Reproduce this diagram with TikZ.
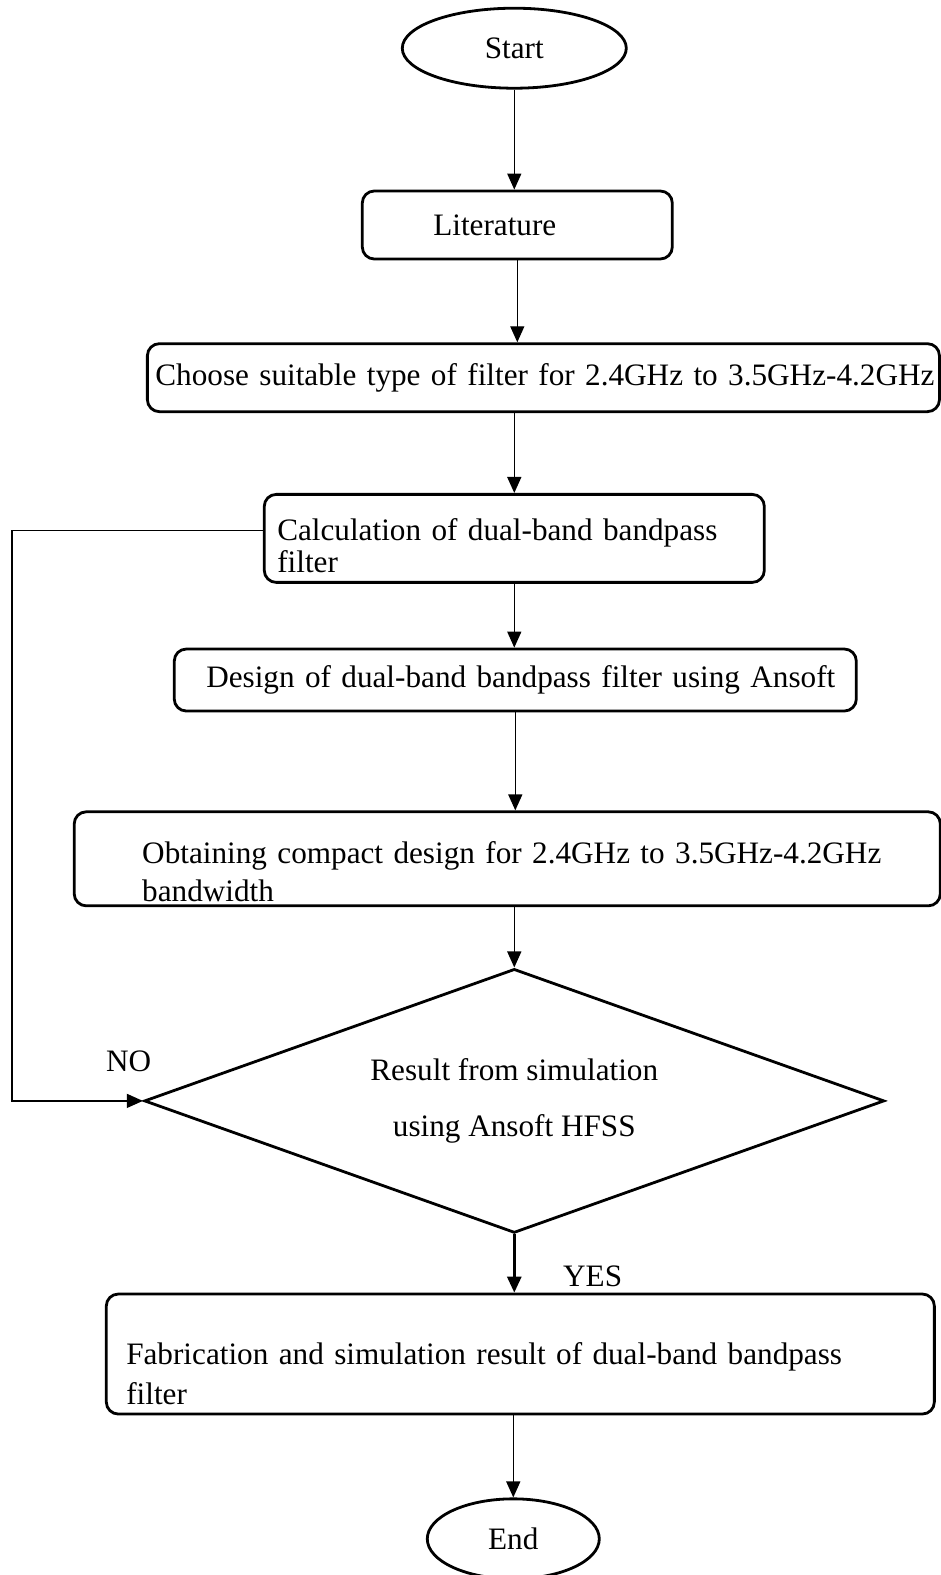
\documentclass[tikz,border=0pt]{standalone}
\usepackage{fontspec}
\setmainfont{Liberation Serif}
\usetikzlibrary{shapes.geometric,arrows.meta}

\begin{document}
\begin{tikzpicture}[x=0.5022pt, y=-0.5022pt,
    every node/.style={font=\fontsize{15.6}{19}\selectfont},
    terminal/.style={ellipse, draw, line width=1.4pt, inner sep=0pt},
    process/.style={rectangle, rounded corners=6pt, draw, line width=1.4pt,
                    inner xsep=0pt, inner ysep=0pt, align=left},
    decision/.style={diamond, draw, line width=1.4pt, inner sep=0pt,
                     aspect=2.8, align=center},
    flow/.style={-{Triangle[length=8pt,width=7pt]}, line width=0.7pt}]
   \useasboundingbox (0,0) rectangle (936,1568);

   \node[terminal, minimum width=112pt, minimum height=40pt] (start) at (512,48) {Start};
   \node[process, text width=155pt, minimum height=34pt] (lit) at (515,224)
        {\hspace*{35.5pt}Literature};
   \node[process, text width=396pt, minimum height=34pt] (choose) at (541,376)
        {\hspace*{4pt}\mbox{Choose suitable type of filter for 2.4GHz to 3.5GHz-4.2GHz}};
   \node[process, text width=250pt, minimum height=44pt] (calc) at (512,536)
        {\rule{0pt}{18pt}\hspace*{6.5pt}Calculation of dual-band bandpass\\[-3pt]\hspace*{6.5pt}filter};
   \node[process, text width=341pt, minimum height=31pt] (design) at (513,677)
        {\hspace*{16pt}Design of dual-band bandpass filter using Ansoft};
   \node[process, text width=433pt, minimum height=47pt] (obtain) at (505,855)
        {\rule{0pt}{24pt}\hspace*{34pt}Obtaining compact design for 2.4GHz to 3.5GHz-4.2GHz\\\hspace*{34pt}bandwidth};
   \node[decision, minimum width=370pt, minimum height=132pt] (dec) at (512,1096)
        {Result from simulation\\[9pt]using Ansoft HFSS};
   \node[process, text width=414pt, minimum height=60pt] (fab) at (518,1348)
        {\rule{0pt}{31pt}\hspace*{10pt}Fabrication and simulation result of dual-band bandpass\\[1pt]\hspace*{10pt}filter};
   \node[terminal, minimum width=86pt, minimum height=40pt] (end) at (511,1532) {End};

   \coordinate (loop) at (12,528);
   \node (no) at (128,1057) {NO};
   \node (yes) at (590,1271) {YES};

   \draw[flow] (start.south) -- (start.south |- lit.north);
   \draw[flow] (lit.south) -- (lit.south |- choose.north);
   \draw[flow] (calc.north |- choose.south) -- (calc.north);
   \draw[flow] (calc.south) -- (calc.south |- design.north);
   \draw[flow] (design.south) -- (design.south |- obtain.north);
   \draw[flow] (dec.north |- obtain.south) -- (dec.north);
   \draw[flow, line width=1.4pt] (dec.south) -- (dec.south |- fab.north);
   \draw[flow] (end.north |- fab.south) -- (end.north);
   \draw[flow] (calc.west |- loop) -- (loop) -- (loop |- dec.west) -- (dec.west);
 \end{tikzpicture}
\end{document}
